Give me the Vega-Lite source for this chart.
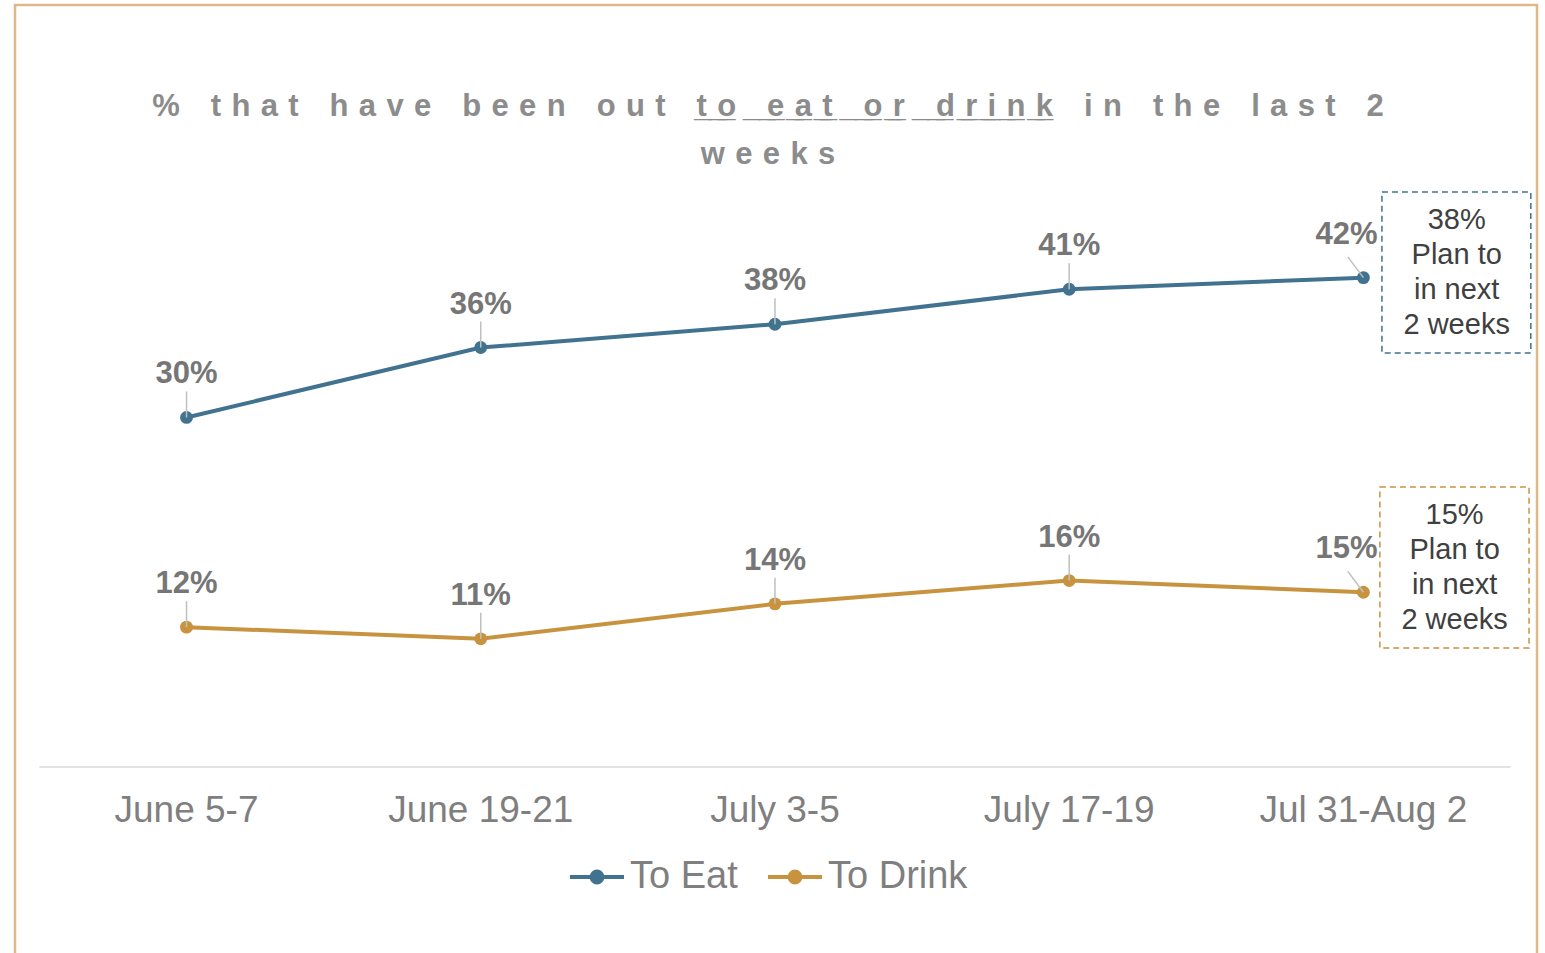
{
  "$schema": "https://vega.github.io/schema/vega-lite/v6.json",
  "width": 1522,
  "height": 995,
  "autosize": {"type": "none"},
  "padding": {"left": 15, "top": 5, "right": 8, "bottom": 0},
  "background": "white",
  "config": {
    "view": {"stroke": "#DEB887", "strokeWidth": 2.5},
    "font": "Liberation Sans"
  },
  "title": {
    "text": [
      "%\u2002\u2002t\u2004h\u2004a\u2004t\u2002\u2002h\u2004a\u2004v\u2004e\u2002\u2002b\u2004e\u2004e\u2004n\u2002\u2002o\u2004u\u2004t\u2002\u2002t\u0332\u2004\u0332o\u0332\u2002\u0332\u2002\u0332e\u0332\u2004\u0332a\u0332\u2004\u0332t\u0332\u2002\u0332\u2002\u0332o\u0332\u2004\u0332r\u0332\u2002\u0332\u2002\u0332d\u0332\u2004\u0332r\u0332\u2004\u0332i\u0332\u2004\u0332n\u0332\u2004\u0332k\u0332\u2002\u2002i\u2004n\u2002\u2002t\u2004h\u2004e\u2002\u2002l\u2004a\u2004s\u2004t\u2002\u20022",
      "w\u2004e\u2004e\u2004k\u2004s"
    ],
    "font": "Liberation Sans",
    "fontSize": 31,
    "fontWeight": "bold",
    "color": "#8C8C8C",
    "anchor": "middle",
    "frame": "group",
    "orient": "top",
    "baseline": "top",
    "offset": -83,
    "dy": 83,
    "lineHeight": 48,
    "dx": -8
  },
  "datasets": {
    "main": [
      {"period": "June 5-7", "i": 0, "series": "To Eat", "value": 0.30},
      {"period": "June 19-21", "i": 1, "series": "To Eat", "value": 0.36},
      {"period": "July 3-5", "i": 2, "series": "To Eat", "value": 0.38},
      {"period": "July 17-19", "i": 3, "series": "To Eat", "value": 0.41},
      {"period": "Jul 31-Aug 2", "i": 4, "series": "To Eat", "value": 0.42},
      {"period": "June 5-7", "i": 0, "series": "To Drink", "value": 0.12},
      {"period": "June 19-21", "i": 1, "series": "To Drink", "value": 0.11},
      {"period": "July 3-5", "i": 2, "series": "To Drink", "value": 0.14},
      {"period": "July 17-19", "i": 3, "series": "To Drink", "value": 0.16},
      {"period": "Jul 31-Aug 2", "i": 4, "series": "To Drink", "value": 0.15}
    ],
    "notes": [
      {"series": "To Eat", "note": "38%\nPlan to\nin next\n2 weeks"},
      {"series": "To Drink", "note": "15%\nPlan to\nin next\n2 weeks"}
    ],
    "base": [{"name": "baseline"}]
  },
  "data": {"name": "main"},
  "layer": [
    {
      "data": {"name": "base"},
      "mark": {"type": "rule", "color": "#D9D9D9", "strokeWidth": 1.5},
      "encoding": {
        "x": {"datum": -0.5, "type": "quantitative", "scale": {"domain": [-0.583, 4.59], "nice": false, "zero": false}, "axis": null},
        "x2": {"datum": 4.5},
        "y": {"datum": 0, "type": "quantitative", "scale": {"domain": [-0.2, 0.654], "nice": false, "zero": false}, "axis": null}
      }
    },
    {
      "mark": {"type": "line", "strokeWidth": 4},
      "encoding": {
        "x": {"field": "i", "type": "quantitative", "scale": {"domain": [-0.583, 4.59], "nice": false, "zero": false}, "axis": null},
        "y": {"field": "value", "type": "quantitative", "scale": {"domain": [-0.2, 0.654], "nice": false, "zero": false}, "axis": null},
        "color": {
          "field": "series", "type": "nominal",
          "scale": {"domain": ["To Eat", "To Drink"], "range": ["#41728F", "#C8933F"]},
          "legend": {
            "title": null, "orient": "none", "legendX": 553, "legendY": 843, "direction": "horizontal",
            "symbolType": "M-1,0L1,0M0.2,0A0.2,0.2,0,1,1,-0.2,0A0.2,0.2,0,1,1,0.2,0",
            "symbolSize": 2916, "symbolStrokeWidth": 4,
            "labelFontSize": 38, "labelColor": "#7F7F7F", "labelFont": "Liberation Sans",
            "labelOffset": 4, "columnPadding": 22, "padding": 0, "labelLimit": 0,
            "encode": {"symbols": {"update": {"fill": {"scale": "color", "field": "value"}, "stroke": {"scale": "color", "field": "value"}, "strokeWidth": {"value": 4}}}}
          }
        }
      }
    },
    {
      "mark": {"type": "point", "filled": true, "size": 165, "opacity": 1},
      "encoding": {
        "x": {"field": "i", "type": "quantitative"},
        "y": {"field": "value", "type": "quantitative"},
        "color": {
          "field": "series", "type": "nominal",
          "scale": {"domain": ["To Eat", "To Drink"], "range": ["#41728F", "#C8933F"]},
          "legend": {
            "title": null, "orient": "none", "legendX": 553, "legendY": 843, "direction": "horizontal",
            "symbolType": "M-1,0L1,0M0.2,0A0.2,0.2,0,1,1,-0.2,0A0.2,0.2,0,1,1,0.2,0",
            "symbolSize": 2916, "symbolStrokeWidth": 4,
            "labelFontSize": 38, "labelColor": "#7F7F7F", "labelFont": "Liberation Sans",
            "labelOffset": 4, "columnPadding": 22, "padding": 0, "labelLimit": 0,
            "encode": {"symbols": {"update": {"fill": {"scale": "color", "field": "value"}, "stroke": {"scale": "color", "field": "value"}, "strokeWidth": {"value": 4}}}}
          }
        }
      }
    },
    {
      "transform": [{"filter": "datum.i < 4"}],
      "mark": {"type": "point", "shape": "M0,0L0,-1", "size": 2704, "filled": false, "stroke": "#BFBFBF", "strokeWidth": 1.5, "opacity": 1},
      "encoding": {
        "x": {"field": "i", "type": "quantitative"},
        "y": {"field": "value", "type": "quantitative"}
      }
    },
    {
      "transform": [{"filter": "datum.i == 4"}],
      "mark": {"type": "point", "shape": "M0,0L-0.6,-0.8", "size": 2704, "filled": false, "stroke": "#BFBFBF", "strokeWidth": 1.5, "opacity": 1},
      "encoding": {
        "x": {"field": "i", "type": "quantitative"},
        "y": {"field": "value", "type": "quantitative"}
      }
    },
    {
      "transform": [{"filter": "datum.i < 4"}],
      "mark": {"type": "text", "dy": -43, "fontSize": 31, "fontWeight": "bold", "color": "#767676", "baseline": "middle", "align": "center"},
      "encoding": {
        "x": {"field": "i", "type": "quantitative"},
        "y": {"field": "value", "type": "quantitative"},
        "text": {"field": "value", "type": "quantitative", "format": ".0%"}
      }
    },
    {
      "transform": [{"filter": "datum.i == 4"}],
      "mark": {"type": "text", "dy": -43, "dx": -17, "fontSize": 31, "fontWeight": "bold", "color": "#767676", "baseline": "middle", "align": "center"},
      "encoding": {
        "x": {"field": "i", "type": "quantitative"},
        "y": {"field": "value", "type": "quantitative"},
        "text": {"field": "value", "type": "quantitative", "format": ".0%"}
      }
    },
    {
      "transform": [{"filter": "datum.series == 'To Eat'"}],
      "mark": {"type": "text", "dy": 44, "fontSize": 37, "color": "#7F7F7F", "baseline": "middle", "align": "center"},
      "encoding": {
        "x": {"field": "i", "type": "quantitative"},
        "y": {"datum": 0, "type": "quantitative"},
        "text": {"field": "period", "type": "nominal"}
      }
    },
    {
      "data": {"name": "notes"},
      "transform": [{"filter": "datum.series == 'To Eat'"}],
      "mark": {"type": "rect", "fill": "white", "fillOpacity": 0, "stroke": "#41728F", "strokeWidth": 1.5, "strokeDash": [6, 4]},
      "encoding": {
        "x": {"datum": 4.063, "type": "quantitative"},
        "x2": {"datum": 4.569},
        "y": {"datum": 0.4935, "type": "quantitative"},
        "y2": {"datum": 0.3553}
      }
    },
    {
      "data": {"name": "notes"},
      "transform": [{"filter": "datum.series == 'To Drink'"}],
      "mark": {"type": "rect", "fill": "white", "fillOpacity": 0, "stroke": "#C8933F", "strokeWidth": 1.5, "strokeDash": [6, 4]},
      "encoding": {
        "x": {"datum": 4.056, "type": "quantitative"},
        "x2": {"datum": 4.563},
        "y": {"datum": 0.2403, "type": "quantitative"},
        "y2": {"datum": 0.1021}
      }
    },
    {
      "data": {"name": "notes"},
      "transform": [{"filter": "datum.series == 'To Eat'"}],
      "mark": {"type": "text", "fontSize": 29, "lineHeight": 35, "lineBreak": "\n", "color": "#404040", "align": "center", "baseline": "middle"},
      "encoding": {
        "x": {"datum": 4.317, "type": "quantitative"},
        "y": {"datum": 0.4695, "type": "quantitative"},
        "text": {"field": "note", "type": "nominal"}
      }
    },
    {
      "data": {"name": "notes"},
      "transform": [{"filter": "datum.series == 'To Drink'"}],
      "mark": {"type": "text", "fontSize": 29, "lineHeight": 35, "lineBreak": "\n", "color": "#404040", "align": "center", "baseline": "middle"},
      "encoding": {
        "x": {"datum": 4.31, "type": "quantitative"},
        "y": {"datum": 0.2163, "type": "quantitative"},
        "text": {"field": "note", "type": "nominal"}
      }
    }
  ]
}
